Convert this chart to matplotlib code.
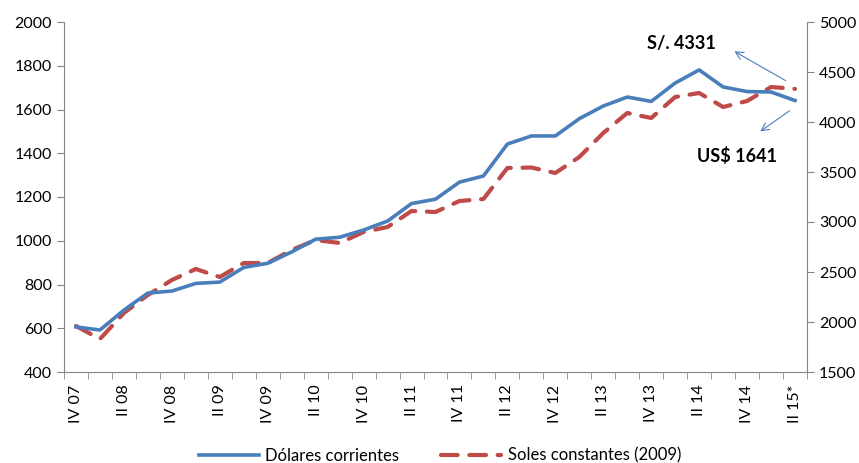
import numpy as np
import matplotlib
matplotlib.use("Agg")
import matplotlib.pyplot as plt

plt.rcParams['font.family'] = ['Lato', 'DejaVu Sans']

# trimestres IV 07 .. II 15*
quarters = ['IV 07', 'I 08', 'II 08', 'III 08', 'IV 08', 'I 09', 'II 09', 'III 09',
            'IV 09', 'I 10', 'II 10', 'III 10', 'IV 10', 'I 11', 'II 11', 'III 11',
            'IV 11', 'I 12', 'II 12', 'III 12', 'IV 12', 'I 13', 'II 13', 'III 13',
            'IV 13', 'I 14', 'II 14', 'III 14', 'IV 14', 'I 15', 'II 15*']

dolares = [606, 592, 683, 761, 770, 805, 811, 878, 897, 949, 1007, 1016, 1049,
           1090, 1170, 1190, 1268, 1296, 1442, 1479, 1479, 1558, 1616, 1657,
           1637, 1721, 1781, 1703, 1682, 1680, 1641]

soles = [1960, 1830, 2090, 2270, 2420, 2530, 2450, 2590, 2590, 2720, 2820, 2790,
         2900, 2950, 3110, 3100, 3210, 3230, 3540, 3545, 3490, 3650, 3890, 4090,
         4040, 4250, 4290, 4150, 4210, 4350, 4331]

blue = '#4A7EBB'
red = '#BE4B48'
gray = '#868686'

fig = plt.figure(figsize=(8.59, 4.63), dpi=100)
ax = fig.add_axes([64/859, 1-372/463, (807-64)/859, 350/463])
ax2 = ax.twinx()

x = np.arange(len(quarters))
l1, = ax.plot(x, dolares, color=blue, lw=2.6, solid_joinstyle='round', label='Dólares corrientes', zorder=3)
l2, = ax2.plot(x, soles, color=red, lw=3, linestyle=(0, (4, 2.8)), dash_capstyle='round',
               label='Soles constantes (2009)', zorder=2)
ax.set_zorder(ax2.get_zorder() + 1)
ax.patch.set_visible(False)

ax.set_xlim(-0.5, len(quarters) - 0.5)
ax.set_ylim(400, 2000)
ax2.set_ylim(1500, 5000)
ax.set_yticks(np.arange(400, 2001, 200))
ax2.set_yticks(np.arange(1500, 5001, 500))

# etiquetas cada dos trimestres
ax.set_xticks(x[::2])
ax.set_xticklabels(quarters[::2], rotation=90, fontsize=11.5)
ax.set_xticks(np.arange(-0.5, len(quarters), 1), minor=True)
ax.tick_params(axis='x', which='major', length=0, pad=9)
ax.tick_params(axis='x', which='minor', length=5, color=gray)
ax.tick_params(axis='y', length=5, color=gray, labelsize=11.5)
ax2.tick_params(axis='y', length=5, color=gray, labelsize=11.5)

for a in (ax, ax2):
    a.spines['top'].set_visible(False)
    for s in ('left', 'right', 'bottom'):
        a.spines[s].set_color(gray)
ax.spines['right'].set_visible(False)
ax2.spines['left'].set_visible(False)
ax2.spines['bottom'].set_visible(False)

# anotaciones
fig.text(681/859, 1-43/463, 'S/. 4331', fontsize=13, fontweight='bold', ha='center', va='center')
fig.text(737/859, 1-156/463, 'US$ 1641', fontsize=13, fontweight='bold', ha='center', va='center')
arrow = dict(arrowstyle='->', color=blue, lw=0.8, mutation_scale=14)
fig.add_artist(matplotlib.patches.FancyArrowPatch((788/859, 1-82/463), (732/859, 1-50/463),
                                                  transform=fig.transFigure, **arrow))
fig.add_artist(matplotlib.patches.FancyArrowPatch((792/859, 1-109/463), (758/859, 1-133/463),
                                                  transform=fig.transFigure, **arrow))

fig.legend(handles=[l1, l2], loc='lower center', bbox_to_anchor=(440/859, -0.034), ncol=2,
           frameon=False, fontsize=12, handlelength=3.6, columnspacing=2.5, handletextpad=0.4)

fig.savefig('out.png', dpi=100)
